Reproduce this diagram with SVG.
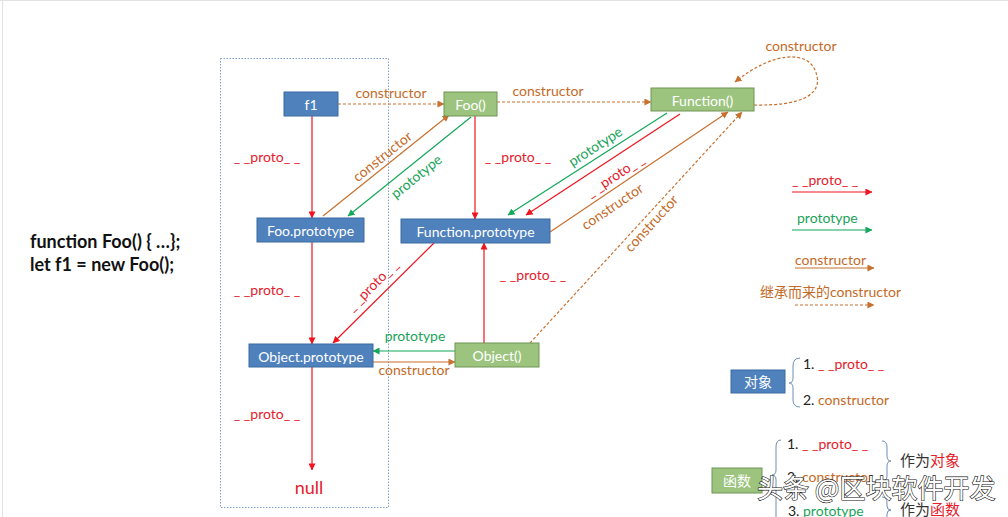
<svg xmlns="http://www.w3.org/2000/svg" width="1008" height="517" viewBox="0 0 1008 517">
<defs>
<style>
.t{font-family:Lato,"Liberation Sans","Noto Sans CJK SC",sans-serif;font-size:14px}
.bx{fill:#4f81bd;stroke:#3d6b9f;stroke-width:1}
.gx{fill:#9cc47f;stroke:#6f9453;stroke-width:1}
.wt{fill:#fff;text-anchor:middle;dominant-baseline:central}
.r{stroke:#f0141e;fill:none;stroke-width:1.2}
.g{stroke:#14a85a;fill:none;stroke-width:1.2}
.o{stroke:#c8702e;fill:none;stroke-width:1.2}
.od{stroke-dasharray:3 2}
.rl{fill:#e5202a}
.gl{fill:#1aa35a}
.ol{fill:#c46a28}
.bl{fill:#222}
.br{stroke:#6f8fb5;fill:none;stroke-width:1}
</style>
<marker id="ar" viewBox="0 0 8 8" refX="7.5" refY="4" markerWidth="7" markerHeight="7" markerUnits="userSpaceOnUse" orient="auto"><path d="M0,0 L8,4 L0,8z" fill="#f0141e"/></marker>
<marker id="ag" viewBox="0 0 8 8" refX="7.5" refY="4" markerWidth="7" markerHeight="7" markerUnits="userSpaceOnUse" orient="auto"><path d="M0,0 L8,4 L0,8z" fill="#14a85a"/></marker>
<marker id="ao" viewBox="0 0 8 8" refX="7.5" refY="4" markerWidth="7" markerHeight="7" markerUnits="userSpaceOnUse" orient="auto"><path d="M0,0 L8,4 L0,8z" fill="#c8702e"/></marker>
</defs>
<rect x="0" y="0" width="1008" height="517" fill="#fff"/>
<path d="M0,0.5 H1008 M2.5,0 V517" stroke="#e2e2e2" stroke-width="1" fill="none"/>

<!-- dotted frame -->
<rect x="220.5" y="58.5" width="168" height="449" fill="none" stroke="#7fa3c8" stroke-width="1" stroke-dasharray="1.5 1.5"/>

<!-- code -->
<g id="code" font-family="Lato,'Liberation Sans',sans-serif" font-weight="bold" font-size="18" fill="#111">
<text x="30" y="248">function Foo() { …};</text>
<text x="30" y="271">let f1 = new Foo();</text>
</g>

<g id="connectors">
<line class="r" x1="312" y1="116" x2="312" y2="218" marker-end="url(#ar)"/>
<text class="t rl" x="267" y="162" text-anchor="middle">_ _proto_ _</text>
<line class="o od" x1="338" y1="104" x2="444" y2="104" marker-end="url(#ao)"/>
<text class="t ol" x="391" y="98" text-anchor="middle">constructor</text>
<line class="o od" x1="497" y1="102" x2="651" y2="102" marker-end="url(#ao)"/>
<text class="t ol" x="548" y="96" text-anchor="middle">constructor</text>
<path class="o od" d="M754,105 C800,106 826,95 815,70 C806,50 772,52 735,82" marker-end="url(#ao)"/>
<text class="t ol" x="801" y="51" text-anchor="middle">constructor</text>
<line class="o" x1="323" y1="216" x2="449" y2="115" marker-end="url(#ao)"/>
<text class="t ol" transform="translate(382,156) rotate(-38.7)" text-anchor="middle" dominant-baseline="central">constructor</text>
<line class="g" x1="471" y1="117" x2="348" y2="216" marker-end="url(#ag)"/>
<text class="t gl" transform="translate(416,176) rotate(-38.8)" text-anchor="middle" dominant-baseline="central">prototype</text>
<line class="r" x1="475" y1="116" x2="475" y2="219" marker-end="url(#ar)"/>
<text class="t rl" x="518" y="162" text-anchor="middle">_ _proto_ _</text>
<line class="g" x1="667" y1="113" x2="508" y2="215" marker-end="url(#ag)"/>
<text class="t gl" transform="translate(595,146) rotate(-32.7)" text-anchor="middle" dominant-baseline="central">prototype</text>
<line class="r" x1="680" y1="114" x2="526" y2="215" marker-end="url(#ar)"/>
<text class="t rl" transform="translate(615,175) rotate(-33.3)" text-anchor="middle" dominant-baseline="central">_ _proto_ _</text>
<line class="o" x1="550" y1="232" x2="728" y2="112" marker-end="url(#ao)"/>
<text class="t ol" transform="translate(612,206) rotate(-34)" text-anchor="middle" dominant-baseline="central">constructor</text>
<line class="o od" x1="530" y1="343" x2="742" y2="112" marker-end="url(#ao)"/>
<text class="t ol" transform="translate(651,223) rotate(-47.5)" text-anchor="middle" dominant-baseline="central">constructor</text>
<line class="r" x1="434" y1="243" x2="333" y2="343" marker-end="url(#ar)"/>
<text class="t rl" transform="translate(372,285) rotate(-44.7)" text-anchor="middle" dominant-baseline="central">_ _proto_ _</text>
<line class="r" x1="484" y1="343" x2="484" y2="243" marker-end="url(#ar)"/>
<text class="t rl" x="533" y="280" text-anchor="middle">_ _proto_ _</text>
<line class="r" x1="312" y1="242" x2="312" y2="344" marker-end="url(#ar)"/>
<text class="t rl" x="267" y="295" text-anchor="middle">_ _proto_ _</text>
<line class="r" x1="312" y1="367" x2="312" y2="470" marker-end="url(#ar)"/>
<text class="t rl" x="267" y="419" text-anchor="middle">_ _proto_ _</text>
<line class="g" x1="455" y1="351" x2="373" y2="351" marker-end="url(#ag)"/>
<text class="t gl" x="415" y="341" text-anchor="middle">prototype</text>
<line class="o" x1="373" y1="362" x2="455" y2="362" marker-end="url(#ao)"/>
<text class="t ol" x="414" y="375" text-anchor="middle">constructor</text>
</g>

<g id="f1"><rect class="bx" x="284" y="92" width="54" height="24"/><text class="t wt" x="311" y="104">f1</text></g>
<g id="foo"><rect class="gx" x="444" y="92" width="53" height="24"/><text class="t wt" x="470.5" y="104">Foo()</text></g>
<g id="function"><rect class="gx" x="651" y="88" width="103" height="23"/><text class="t wt" x="702.5" y="100">Function()</text></g>
<g id="foo-prototype"><rect class="bx" x="257" y="218" width="107" height="24"/><text class="t wt" x="310.5" y="230">Foo.prototype</text></g>
<g id="function-prototype"><rect class="bx" x="401" y="219" width="149" height="24"/><text class="t wt" x="475.5" y="231">Function.prototype</text></g>
<g id="object-prototype"><rect class="bx" x="249" y="344" width="124" height="23"/><text class="t wt" x="311" y="356">Object.prototype</text></g>
<g id="object"><rect class="gx" x="455" y="343" width="84" height="24"/><text class="t wt" x="497" y="355">Object()</text></g>
<g id="null"><text x="309" y="494" text-anchor="middle" font-family="Lato,'Liberation Sans',sans-serif" font-size="18" fill="#e5202a">null</text></g>

<g id="legend">
<text class="t rl" x="792" y="185">_ _proto_ _</text>
<line class="r" x1="792" y1="192" x2="872" y2="192" marker-end="url(#ar)"/>
<text class="t gl" x="797" y="223">prototype</text>
<line class="g" x1="792" y1="230" x2="872" y2="230" marker-end="url(#ag)"/>
<text class="t ol" x="795" y="265">constructor</text>
<line class="o" x1="795" y1="268" x2="874" y2="268" marker-end="url(#ao)"/>
<text class="t ol" x="760" y="297">继承而来的constructor</text>
<line class="o od" x1="795" y1="305" x2="874" y2="305" marker-end="url(#ao)"/>
</g>

<g id="object-box">
<rect class="bx" x="731" y="370" width="54" height="23"/>
<text class="t wt" x="758" y="381.5" font-family="'Noto Sans CJK SC',sans-serif">对象</text>
<path class="br" d="M800,358 Q793,358 793,366 V378 Q793,383 789,383 Q793,383 793,388 V400 Q793,407 800,407"/>
<text class="t" x="803" y="369"><tspan class="bl">1. </tspan><tspan class="rl">_ _proto_ _</tspan></text>
<text class="t" x="803" y="405"><tspan class="bl">2. </tspan><tspan class="ol">constructor</tspan></text>
</g>

<g id="function-box">
<rect class="gx" x="712" y="468" width="50" height="25"/>
<text class="t wt" x="737" y="480.5" font-family="'Noto Sans CJK SC',sans-serif">函数</text>
<path class="br" d="M781,440 Q776,440 776,447 V470 Q776,475 772,475 Q776,475 776,480 V517"/>
<text class="t" x="787" y="449"><tspan class="bl">1. </tspan><tspan class="rl">_ _proto_ _</tspan></text>
<text class="t" x="787" y="482"><tspan class="bl">2. </tspan><tspan class="ol">constructor</tspan></text>
<text class="t" x="788" y="516"><tspan class="bl">3. </tspan><tspan class="gl">prototype</tspan></text>
<path class="br" d="M882,441 Q887,441 887,447 V456 Q887,461 891,461 Q887,461 887,466 V476 Q887,481 882,481"/>
<path class="br" d="M882,497 Q887,497 887,503 V506 Q887,510 891,510 Q887,510 887,514 V517"/>
<text x="900" y="466" font-family="'Noto Sans CJK SC',sans-serif" font-size="15" fill="#333">作为<tspan fill="#e5202a">对象</tspan></text>
<text x="900" y="515" font-family="'Noto Sans CJK SC',sans-serif" font-size="15" fill="#333">作为<tspan fill="#e5202a">函数</tspan></text>
</g>

<g id="watermark">
<text x="757" y="498" font-family="'Noto Sans CJK SC',sans-serif" font-size="26" fill="#fff" stroke="#111" stroke-width="1.2" paint-order="stroke">头条 @区块软件开发</text>
</g>
</svg>
